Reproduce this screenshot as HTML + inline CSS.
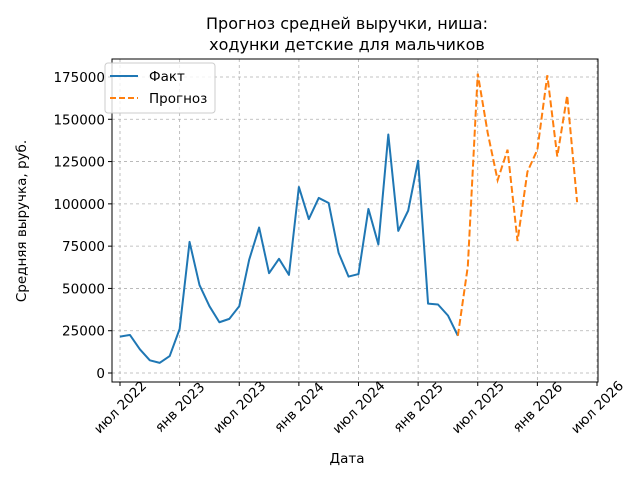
<!DOCTYPE html>
<html><head><meta charset="utf-8"><style>
body{margin:0;background:#fff}
svg{display:block;font-family:"DejaVu Sans","Liberation Sans",sans-serif}
</style></head><body>
<svg id="chart" width="640" height="480" viewBox="0 0 640 480">
<rect width="640" height="480" fill="#fff"/>
<g id="grid"></g>
<g id="axes"></g>
<g id="series"></g>
<text x="347" y="29" font-size="16" text-anchor="middle">Прогноз средней выручки, ниша:</text>
<text x="347" y="50" font-size="16" text-anchor="middle">ходунки детские для мальчиков</text>
<text x="347" y="463" font-size="13.5" text-anchor="middle">Дата</text>
<text transform="translate(26,221) rotate(-90)" font-size="13.5" text-anchor="middle">Средняя выручка, руб.</text>
<g>
<rect x="105" y="63" width="110" height="50" rx="3" fill="#fff" fill-opacity="0.8" stroke="#ccc"/>
<line x1="110" y1="76" x2="138" y2="76" stroke="#1f77b4" stroke-width="2"/>
<text x="149" y="81" font-size="13.5">Факт</text>
<line x1="110" y1="98" x2="138" y2="98" stroke="#ff7f0e" stroke-width="2" stroke-dasharray="6,3"/>
<text x="149" y="103" font-size="13.5">Прогноз</text>
</g>
</svg>
<script>
const factValues=[21500,22500,14000,7500,6000,10000,26000,77500,52000,39500,30000,32000,39500,67000,86000,59000,67500,58000,110000,91000,103500,100500,71000,57000,58500,97000,76000,141000,84000,96000,125500,41000,40500,34000,22000];
const forecastValues=[22000,63000,177000,142000,114000,132000,78000,119000,132000,176000,128000,164000,101000];
const factStart=0; // month index from Jul 2022
const forecastStart=34;
const yTicks=[0,25000,50000,75000,100000,125000,150000,175000];
const xTickLabels=["июл 2022","янв 2023","июл 2023","янв 2024","июл 2024","янв 2025","июл 2025","янв 2026","июл 2026"];
const L=112,R=598,T=59,B=382;
const X=m=>120+m*(597-120)/48;
const Y=v=>373-v*(373-77)/175000;
const NS="http://www.w3.org/2000/svg";
const grid=document.getElementById('grid'),axes=document.getElementById('axes'),series=document.getElementById('series');
function mk(tag,attrs,parent){const e=document.createElementNS(NS,tag);for(const k in attrs)e.setAttribute(k,attrs[k]);parent.appendChild(e);return e;}
yTicks.forEach(v=>{
 const y=Y(v);
 const g=mk('line',{x1:L,x2:R,y1:y,y2:y,stroke:'#b0b0b0','stroke-width':0.8,'stroke-dasharray':'3,3'},grid);
 
 
 mk('line',{x1:L-4,x2:L,y1:y,y2:y,stroke:'#000'},axes);
 const t=mk('text',{x:L-7,y:y+5,'font-size':13.5,'text-anchor':'end'},axes);
 t.textContent=v;
 
 
});
xTickLabels.forEach((lab,i)=>{
 const x=X(i*6);
 const g=mk('line',{x1:x,x2:x,y1:T,y2:B,stroke:'#b0b0b0','stroke-width':0.8,'stroke-dasharray':'3,3'},grid);
 
 
 mk('line',{x1:x,x2:x,y1:B,y2:B+4,stroke:'#000'},axes);
 const t=mk('text',{transform:`translate(${x},${B+25}) rotate(-45)`,'font-size':13.5,'text-anchor':'middle',dy:'0.35em'},axes);
 t.textContent=lab;
 
 
});
const frame=mk('rect',{x:L,y:T,width:R-L,height:B-T,fill:'none',stroke:'#000','stroke-width':1},axes);


const fp=mk('polyline',{points:factValues.map((v,i)=>X(factStart+i)+','+Y(v)).join(' '),fill:'none',stroke:'#1f77b4','stroke-width':2,'stroke-linejoin':'round'},series);


const pp=mk('polyline',{points:forecastValues.map((v,i)=>X(forecastStart+i)+','+Y(v)).join(' '),fill:'none',stroke:'#ff7f0e','stroke-width':2,'stroke-dasharray':'7,3'},series);


</script>
</body></html>
